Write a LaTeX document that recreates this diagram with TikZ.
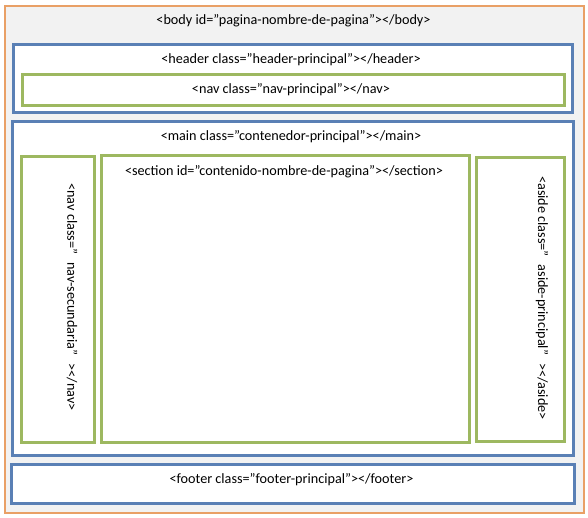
\documentclass[tikz,border=0pt]{standalone}
\usepackage{fontspec}
\setmainfont{Carlito}
\definecolor{orng}{HTML}{E9A066}
\definecolor{blu}{HTML}{5A80B5}
\definecolor{grn}{HTML}{9DB860}
\definecolor{bgc}{HTML}{F2F2F2}
\begin{document}
\begin{tikzpicture}[x=1pt,y=-1pt,
  box/.style={rectangle,inner sep=0pt,anchor=north west},
  outerbox/.style={box,draw=orng,line width=2pt,fill=bgc},
  bluebox/.style={box,draw=blu,line width=3pt,fill=white},
  greenbox/.style={box,draw=grn,line width=3pt,fill=white},
  lbl/.style={inner sep=0pt,font=\fontsize{14.2}{16}\selectfont,text=black}]
\useasboundingbox (0,0) rectangle (588,517);
\node[outerbox,minimum width=579pt,minimum height=507pt] (body) at (4,5) {};
\node[bluebox,minimum width=559pt,minimum height=68pt] (header) at (12,43) {};
\node[greenbox,minimum width=542pt,minimum height=31pt] (nav) at (21,73) {};
\node[bluebox,minimum width=561pt,minimum height=334pt] (main) at (11,120) {};
\node[greenbox,minimum width=73pt,minimum height=286pt] (nav2) at (20,155) {};
\node[greenbox,minimum width=368pt,minimum height=287pt] (section) at (100,154) {};
\node[greenbox,minimum width=88pt,minimum height=284pt] (aside) at (475,156) {};
\node[bluebox,minimum width=563pt,minimum height=39pt] (footer) at (10,463) {};
\node[lbl] (bodyt) at (293.5,20.5) {<body id=”pagina-nombre-de-pagina”></body>};
\node[lbl] (headert) at (291,59.5) {<header class=”header-principal”></header>};
\node[lbl] (navt) at (291,89.5) {<nav class=”nav-principal”></nav>};
\node[lbl] (maint) at (291,136.5) {<main class=”contenedor-principal”></main>};
\node[lbl] (sectiont) at (284,171.5) {<section id=”contenido-nombre-de-pagina”></section>};
\node[lbl,rotate=-90] (nav2t) at (72,297) {<nav class=”\hspace{8pt}nav-secundaria”\hspace{8pt}></nav>};
\node[lbl,rotate=-90] (asidet) at (542,298) {<aside class=”\hspace{8pt}aside-principal”\hspace{8pt}></aside>};
\node[lbl] (footert) at (291.5,479.5) {<footer class=”footer-principal”></footer>};
\end{tikzpicture}
\end{document}
